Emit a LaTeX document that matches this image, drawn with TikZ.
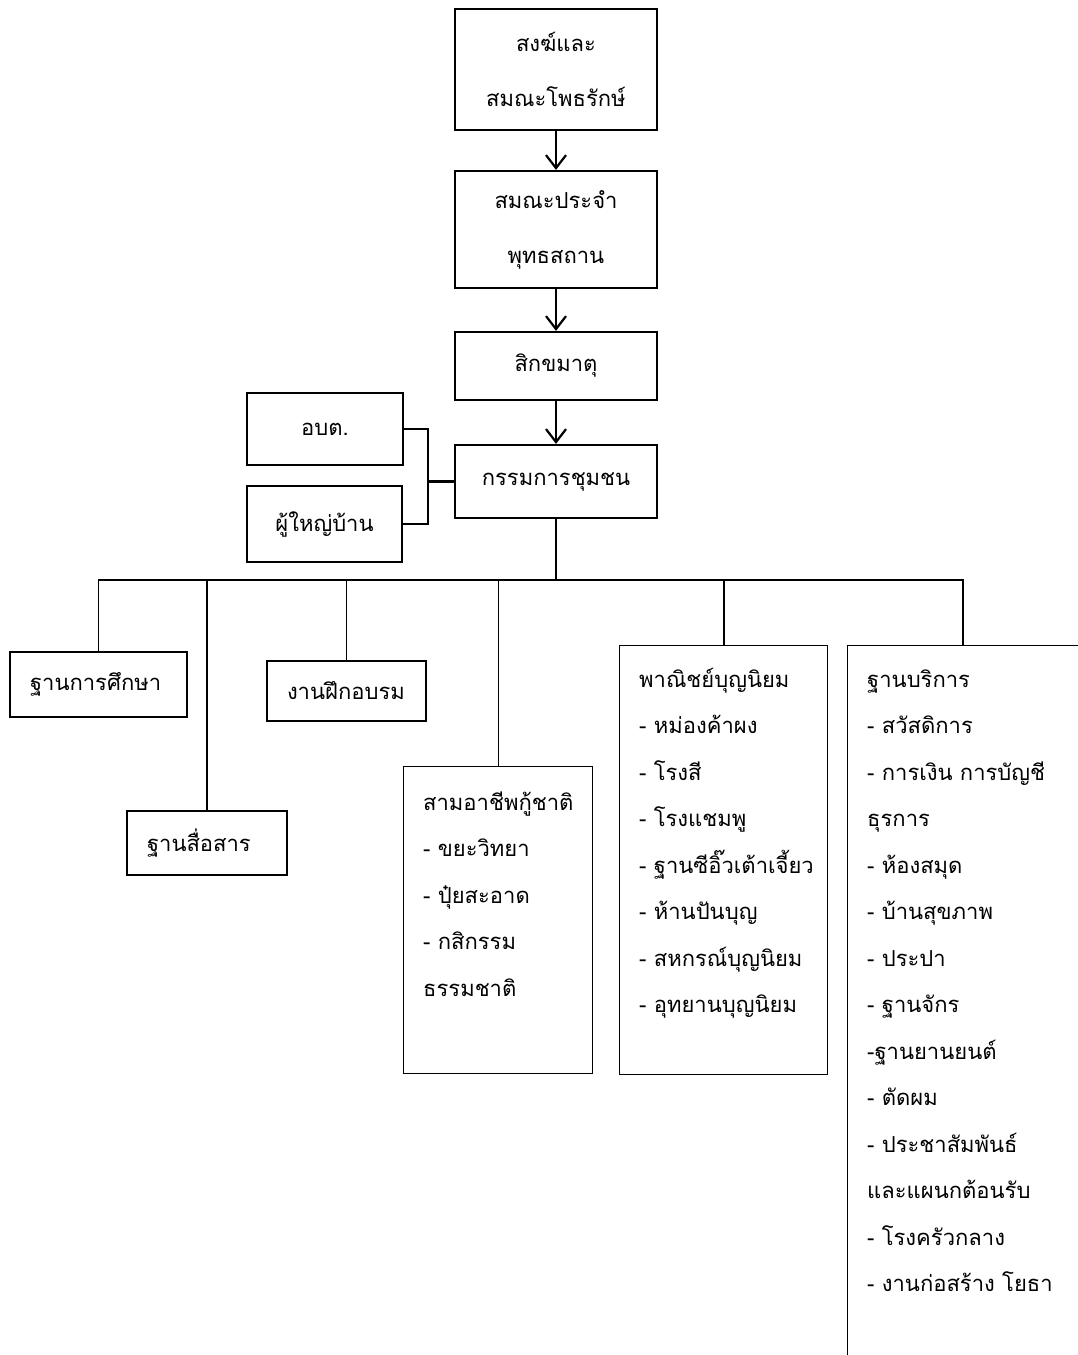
\documentclass[tikz,border=0pt]{standalone}
\usepackage{fontspec}
\newfontfamily\thaifont[Script=Thai]{Loma}
\usetikzlibrary{arrows.meta,positioning}

\begin{document}
\begin{tikzpicture}[
    x=1pt, y=-1pt,
    every node/.style={font=\thaifont\fontsize{22}{46.5}\selectfont},
    box/.style={rectangle, draw, inner sep=0pt},
    mainbox/.style={box, line width=2.2pt, align=center, font=\thaifont\fontsize{22}{55}\selectfont},
    subbox/.style={box, line width=1.2pt},
    listtext/.style={anchor=base west, align=left, inner sep=0pt, text width=240pt},
    arrow/.style={-{Straight Barb[length=13pt,width=20pt]}, line width=2.2pt},
    boldline/.style={line width=2.2pt},
    thinline/.style={line width=1.2pt},
]
\useasboundingbox (0,0) rectangle (1078,1355);
\clip (0,0) rectangle (1078,1355);

% Top chain
\node[mainbox, minimum width=202pt, minimum height=121pt] (sangha) at (556,69.5) {สงฆ์และ\\สมณะโพธรักษ์};
\node[mainbox, minimum width=202pt, minimum height=117pt] (monks) at (556,229.5) {สมณะประจำ\\พุทธสถาน};
\node[mainbox, minimum width=202pt, minimum height=68pt] (sikkha) at (556,366) {สิกขมาตุ};
\node[mainbox, minimum width=202pt, minimum height=73pt] (committee) at (556,481.5) {กรรมการชุมชน};

\draw[arrow] (sangha) -- (monks);
\draw[arrow] (monks) -- (sikkha);
\draw[arrow] (sikkha) -- (committee);

% Side boxes
\node[mainbox, minimum width=156pt, minimum height=72pt] (sao) at (325,429) {อบต.};
\node[mainbox, minimum width=155pt, minimum height=76pt] (headman) at (324.5,524) {ผู้ใหญ่บ้าน};

\coordinate (join) at (428,481.5);
\draw[boldline] (sao.east) -| (join) |- (headman.east);
\draw[boldline] (join) -- (committee.west);

% Lower boxes
\node[subbox, minimum width=177pt, minimum height=65pt, text width=137pt, align=left] (edu) at (98.5,684.5) {ฐานการศึกษา};
\node[subbox, minimum width=160pt, minimum height=64pt, text width=120pt, align=left] (media) at (207,843) {ฐานสื่อสาร};
\node[subbox, minimum width=159pt, minimum height=60pt, text width=119pt, align=left] (training) at (346.5,691) {งานฝึกอบรม};
\node[subbox, minimum width=189pt, minimum height=307pt, anchor=north west] (career) at (403,766) {};
\node[subbox, minimum width=208pt, minimum height=429pt, anchor=north west] (trade) at (619,645) {};
\node[subbox, minimum width=300pt, minimum height=760pt, anchor=north west] (service) at (847,645) {};

% Bus and branches
\coordinate (busR) at (963,580);
\draw[thinline] (edu.north) |- (busR) -- (busR |- service.north);
\draw[boldline] (committee.south) -- (committee.south |- busR);
\draw[boldline] (media.north |- busR) -- (trade.north |- busR);
\draw[boldline] (media.north |- busR) -- (media.north);
\draw[boldline] (trade.north |- busR) -- (trade.north);
\draw[thinline] (training.north |- busR) -- (training.north);
\draw[thinline] (career.north |- busR) -- (career.north);

% Lists
\node[listtext] (careertext) at ([shift={(20,44)}]career.north west) {สามอาชีพกู้ชาติ\\- ขยะวิทยา\\- ปุ๋ยสะอาด\\- กสิกรรม\\ธรรมชาติ};
\node[listtext] (tradetext) at ([shift={(20,42)}]trade.north west) {พาณิชย์บุญนิยม\\- หม่องค้าผง\\- โรงสี\\- โรงแชมพู\\- ฐานซีอิ๊วเต้าเจี้ยว\\- ห้านปันบุญ\\- สหกรณ์บุญนิยม\\- อุทยานบุญนิยม};
\node[listtext] (servicetext) at ([shift={(20,42)}]service.north west) {ฐานบริการ\\- สวัสดิการ\\- การเงิน การบัญชี\\ธุรการ\\- ห้องสมุด\\- บ้านสุขภาพ\\- ประปา\\- ฐานจักร\\-ฐานยานยนต์\\- ตัดผม\\- ประชาสัมพันธ์\\และแผนกต้อนรับ\\- โรงครัวกลาง\\- งานก่อสร้าง โยธา};

\end{tikzpicture}
\end{document}
